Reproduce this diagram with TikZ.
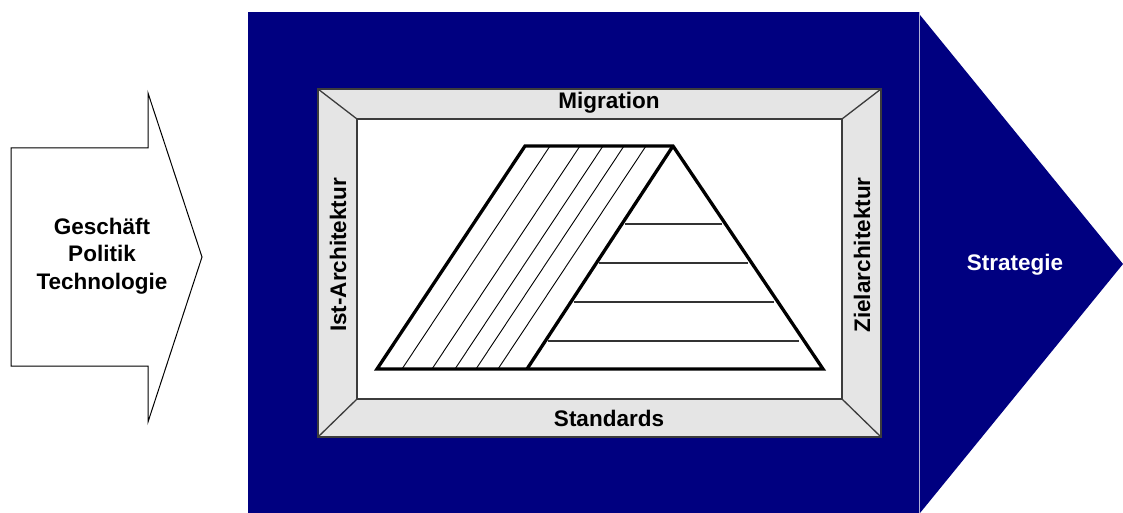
\documentclass[tikz,border=0pt]{standalone}
\usepackage{fontspec}
\setmainfont{Liberation Sans}
\definecolor{navyblue}{RGB}{0,0,128}
\definecolor{framegray}{RGB}{229,229,229}
\definecolor{edgegray}{RGB}{60,60,60}
\definecolor{seamblue}{RGB}{176,176,214}
\begin{document}
\begin{tikzpicture}[x=1pt,y=-1pt,
  lbl/.style={font=\bfseries\fontsize{22.5}{27.5}\selectfont, inner sep=0pt, align=center},
  framepart/.style={draw=edgegray, line width=1.3pt},
  thickline/.style={line width=3.3pt, line join=miter, line cap=butt},
  hatchline/.style={line width=0.9pt},
  levelline/.style={draw=black!80, line width=1.3pt}]
\useasboundingbox (0,0) rectangle (1123,513);
% input arrow
\draw[line width=1pt, fill=white] (11,148) -- (148,148) -- (148,93) -- (202,257) -- (148,422) -- (148,366) -- (11,366) -- cycle;
\node[lbl] (input) at (102,256) {Geschäft\\Politik\\Technologie};
% blue block and output arrow
\fill[navyblue] (248,12) rectangle (919,513);
\fill[navyblue] (920,15) -- (1123,264) -- (920,513) -- cycle;
\draw[seamblue, line width=0.8pt] (919.5,12) -- (919.5,513);
\node[lbl, text=white] (strategy) at (1015,265) {Strategie};
% frame
\draw[framepart, fill=framegray] (318,89) rectangle (881,437);
\draw[framepart, fill=white] (357,119) rectangle (842,399);
\draw[framepart] (318,89) -- (357,119);
\draw[framepart] (881,89) -- (842,119);
\draw[framepart] (318,437) -- (357,399);
\draw[framepart] (881,437) -- (842,399);
\node[lbl] (migration) at (609,103) {Migration};
\node[lbl] (standards) at (609,418) {Standards};
\node[lbl, rotate=90] (ist) at (338,255) {Ist-Architektur};
\node[lbl, rotate=90] (ziel) at (862,255) {Zielarchitektur};
% pyramid hatching
\foreach \b in {402,432,455,476,498} {
  \draw[hatchline] (\b,369) -- (\b+148,146);
}
% pyramid levels
\draw[levelline] (625,224) -- (722,224);
\draw[levelline] (599,263) -- (748,263);
\draw[levelline] (574,302) -- (774,302);
\draw[levelline] (548,341) -- (799,341);
% pyramid outline
\draw[thickline] (377,369) -- (525,146) -- (673,146) -- (823,369) -- cycle;
\draw[thickline] (527,369) -- (673,146);
\end{tikzpicture}
\end{document}
